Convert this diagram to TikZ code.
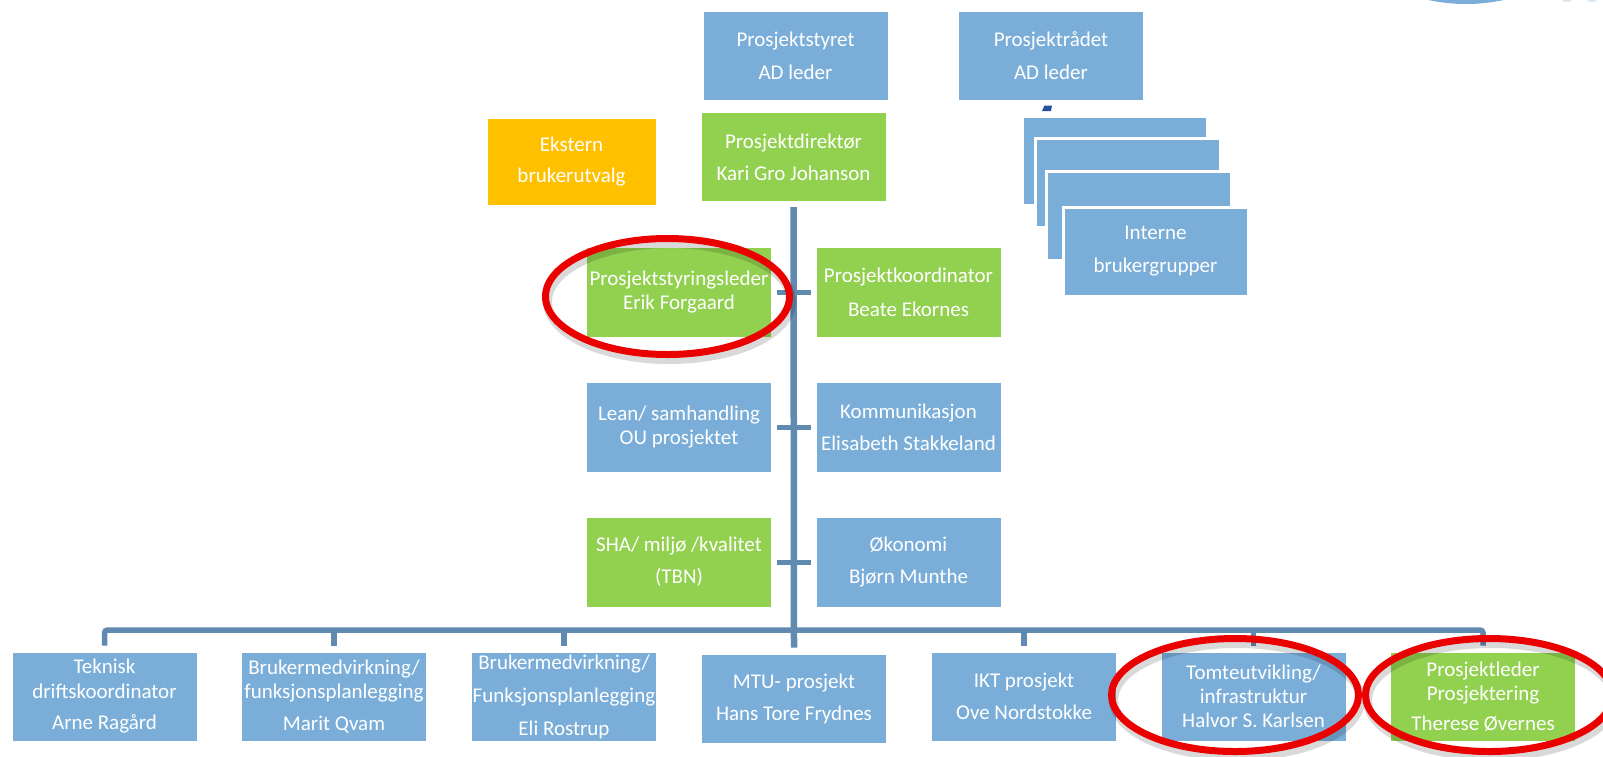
\documentclass[tikz,border=0pt]{standalone}
\usepackage{fontspec}
\setmainfont{Carlito}
\usetikzlibrary{calc}
\definecolor{boxblue}{RGB}{122,174,217}
\definecolor{boxgreen}{RGB}{146,208,80}
\definecolor{boxorange}{RGB}{255,192,0}
\definecolor{linkblue}{RGB}{96,138,176}
\definecolor{ringred}{RGB}{235,0,0}
\definecolor{markblue}{RGB}{36,80,160}
\begin{document}
\begin{tikzpicture}[x=1pt,y=-1pt,
  card/.style={minimum width=185pt, minimum height=89pt, inner sep=0pt, align=center,
    text=white, font=\fontsize{21}{24}\selectfont, draw=white, line width=1pt},
  bluecard/.style={card, fill=boxblue},
  greencard/.style={card, fill=boxgreen},
  stackcard/.style={bluecard, line width=3pt},
  link/.style={draw=linkblue, line width=5.5pt},
  ring/.style={draw=ringred, line width=7pt},
  ringshadow/.style={draw=black, opacity=0.15, line width=9pt},
]
\useasboundingbox (0,0) rectangle (1603,756);

% corner logo fragment
\begin{scope}
  \clip (0,0) rectangle (1603,756);
  \fill[boxblue] (1466,-174) circle [radius=178pt];
  \fill[boxblue!30] (1567,0) ellipse [x radius=5pt, y radius=2pt];
  \fill[boxblue!30] (1592,0) ellipse [x radius=5pt, y radius=2pt];
\end{scope}

% top level
\node[bluecard] (styret) at (795.5,55.5) {Prosjektstyret\\[9pt]AD leder};
\node[bluecard] (raadet) at (1051,55.5) {Prosjektrådet\\[9pt]AD leder};
\node[greencard] (dir) at (793.5,157) {Prosjektdirektør\\[8pt]Kari Gro Johanson};
\node[card, fill=boxorange, minimum width=169pt, minimum height=87pt] (ekstern) at (571.5,161.5) {Ekstern\\[7pt]brukerutvalg};

% small mark
\fill[markblue] (1042,111) -- (1044.5,105.5) -- (1052,105.5) -- (1051,111) -- cycle;

% stacked internal groups
\node[stackcard] (int1) at (1114.5,161) {};
\node[stackcard] (int2) at (1127.5,182.5) {};
\node[stackcard] (int3) at (1139,216) {};
\node[stackcard] (int4) at (1155.5,251.5) {Interne\\[9pt]brukergrupper};

% staff rows
\node[greencard, minimum height=90pt] (styring) at (679,292) {Prosjektstyringsleder\\Erik Forgaard};
\node[greencard, minimum height=90pt] (koord) at (908.5,292) {Prosjektkoordinator\\[10pt]Beate Ekornes};
\node[bluecard, minimum height=90pt] (lean) at (679,427) {Lean/ samhandling\\OU prosjektet};
\node[bluecard, minimum height=90pt] (komm) at (908.5,427) {Kommunikasjon\\[8pt]Elisabeth Stakkeland};
\node[greencard, minimum height=90pt] (sha) at (679,562) {SHA/ miljø /kvalitet\\[8pt](TBN)};
\node[bluecard, minimum height=90pt] (oko) at (908.5,562) {Økonomi\\[8pt]Bjørn Munthe};

% bottom row
\node[bluecard] (b1) at (104.5,696.5) {Teknisk\\driftskoordinator\\[8pt]Arne Ragård};
\node[bluecard] (b2) at (334,696.5) {Brukermedvirkning/\\funksjonsplanlegging\\[8pt]Marit Qvam};
\node[bluecard] (b3) at (564,696.5) {Brukermedvirkning/\\[9pt]Funksjonsplanlegging\\[9pt]Eli Rostrup};
\node[bluecard] (b4) at (794,698.5) {MTU- prosjekt\\[8pt]Hans Tore Frydnes};
\node[bluecard] (b5) at (1024,696.5) {IKT prosjekt\\[8pt]Ove Nordstokke};
\node[bluecard] (b6) at (1253.5,696.5) {Tomteutvikling/\\infrastruktur\\Halvor S. Karlsen};
\node[greencard] (b7) at (1483,696.5) {Prosjektleder\\Prosjektering\\[6pt]Therese Øvernes};

% connectors
\coordinate (busL) at (104.5,630);
\coordinate (busR) at (1483,630);
\draw[link, line width=6.5pt] ([yshift=-5pt]dir.south) -- ([yshift=6pt]b4.north);
\draw[link, rounded corners=3pt] ([yshift=6pt]b1.north) -- (busL) -- (busR) -- ([yshift=6pt]b7.north);
\foreach \n in {b2,b3,b5,b6} \draw[link] (\n.north |- busL) -- ([yshift=6pt]\n.north);
\draw[link, line width=5pt] ([xshift=5pt]styring.east) -- ([xshift=-5pt]koord.west);
\draw[link, line width=5pt] ([xshift=5pt]lean.east) -- ([xshift=-5pt]komm.west);
\draw[link, line width=5pt] ([xshift=5pt]sha.east) -- ([xshift=-5pt]oko.west);

% red highlight rings
\begin{scope}
  \clip (0,0) rectangle (1603,756);
  \draw[ringshadow] (669.5,301.5) ellipse [x radius=122pt, y radius=58pt];
  \draw[ringshadow] (1237,700) ellipse [x radius=123.5pt, y radius=56.5pt];
  \draw[ringshadow] (1491,700) ellipse [x radius=123.5pt, y radius=56.5pt];
  \draw[ring] (667.5,296.5) ellipse [x radius=122pt, y radius=58pt];
  \draw[ring] (1235,695) ellipse [x radius=123.5pt, y radius=56.5pt];
  \draw[ring] (1489,695) ellipse [x radius=123.5pt, y radius=56.5pt];
\end{scope}
\end{tikzpicture}
\end{document}
